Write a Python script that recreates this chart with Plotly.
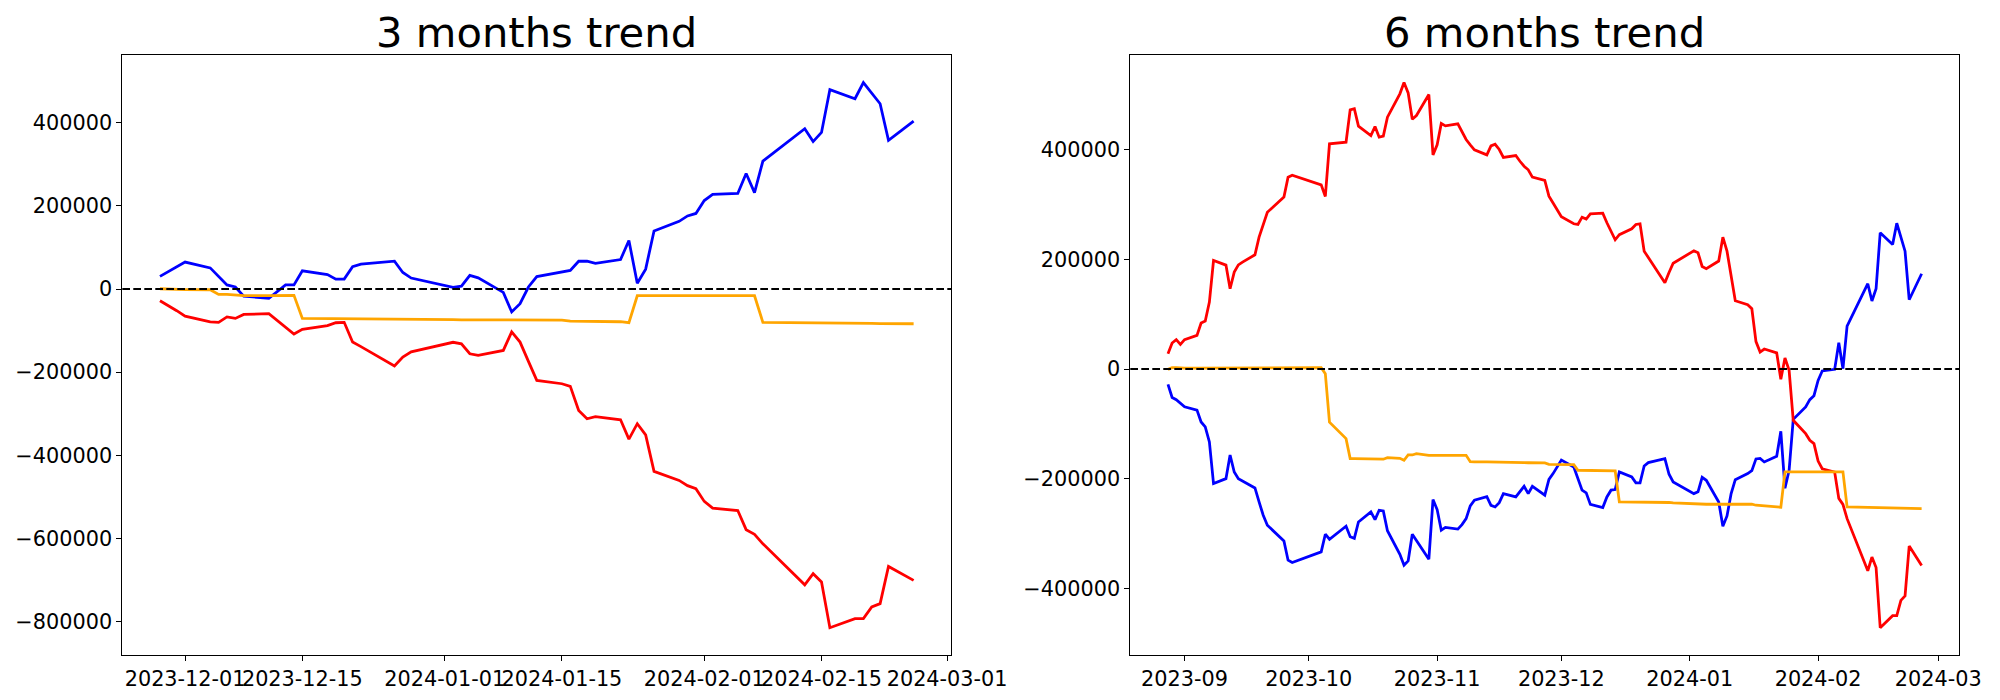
import pandas as pd
import plotly.graph_objects as go

# ---------------- data ----------------
KRX_HOLIDAYS = ["2023-09-28", "2023-09-29", "2023-10-02", "2023-10-03", "2023-10-09",
                "2023-12-25", "2023-12-29", "2024-01-01", "2024-02-09", "2024-02-12"]

DATES_3M = pd.bdate_range("2023-11-28", "2024-02-26", freq="C", holidays=KRX_HOLIDAYS)
DATES_6M = pd.bdate_range("2023-08-28", "2024-02-26", freq="C", holidays=KRX_HOLIDAYS)

BLUE_3M = [30500, 42500, 53000, 65000,
           51000, 30000, 10000, 5000, -17000,
           -22000, -5000, 10000, 10000, 44000,
           35000, 24000, 24000, 54000, 60000,
           67000, 40000, 26500,
           4000, 7000, 33000, 27000,
           -8000, -55000, -35000, 5000, 30000,
           40000, 45000, 67000, 67000, 62000,
           71000, 117000, 14000, 48000, 140000,
           163000, 176000, 182000, 213000, 228000,
           230000, 278000, 232000, 308000,
           386000, 355000, 377000, 480000,
           458000, 497000, 472000, 446000, 358000,
           404000]

RED_3M = [-28000, -39000, -52000, -65000,
          -79000, -80000, -67000, -70600, -61000,
          -59000, -75000, -91000, -108000, -97000,
          -88000, -81000, -80000, -127500, -138500,
          -185000, -163600, -151000,
          -128000, -131600, -155600, -159600,
          -147600, -103000, -127600, -174000, -219800,
          -227800, -234000, -292000, -312000, -307000,
          -314500, -361000, -324000, -351000, -438800,
          -460500, -473000, -480500, -511000, -527000,
          -533000, -579000, -590000, -613000,
          -711800, -685000, -705000, -815000,
          -793000, -793000, -765000, -757000, -667500,
          -701000]

ORANGE_3M = [800, 0, -800, -1200,
             -1600, -12800, -12800, -14000, -16000,
             -16000, -15500, -15500, -15000, -70600,
             -70800, -71000, -71000, -71000, -71200,
             -71400, -72000, -72500,
             -73500, -74000, -74000, -74000,
             -74000, -74200, -74400, -74500, -74600,
             -74600, -77000, -77300, -77600, -77900,
             -78600, -81000, -16000, -16000, -16000,
             -15800, -15800, -15600, -15600, -15500,
             -15500, -15500, -16000, -80200,
             -80500, -81000, -81000, -81500,
             -81800, -82000, -82500, -83000, -83200,
             -83400]

BLUE_6M = [-28000, -52000, -56000, -62600,
           -69000,
           -75000, -96600, -105700, -133000, -209000,
           -200000, -157000, -187800, -200000, -204000,
           -217000, -242500, -266800, -285000, -292000,
           -313600, -348800, -353000,
           -333600, -301400, -310500,
           -286800, -306000, -309000, -279000,
           -260700, -274700, -257700, -258900, -295000,
           -337900, -358000, -350000, -301400, -313000,
           -347000, -238200, -256400, -294000, -289000,
           -292000, -283800, -272900, -249800, -239400,
           -232700, -248600, -251600, -243700, -227300,
           -233400, -223600, -214000, -227300, -214000,
           -230000, -201500, -190800, -178700, -166000,
           -178700, -201800, -221000, -226000, -247000,
           -252800, -233400, -221000, -220000, -187800,
           -197000, -207800, -207800, -176800, -170800,
           -163500, -192000, -206000,
           -227300, -224000, -197500, -203000,
           -242500, -286800, -268000, -227300, -201800,
           -190800, -185300, -164000, -163000, -169500,
           -159200, -113600, -217600, -184700, -91800,
           -69300, -55900, -48600, -20700, -3600,
           -600, 48000, 600, 78400,
           155600, 124000, 146500, 248500,
           227300, 266000, 240600, 215000, 126400,
           173800]

RED_6M = [28000, 47400, 53500, 45000,
          53500,
          61400, 83900, 87500, 122000, 198000,
          189600, 146500, 176800, 190000, 195000,
          208400, 240600, 265000, 286000, 293000,
          313600, 350000, 353700,
          336000, 314800, 410800,
          413800, 472800, 475000, 443000,
          426000, 442400, 423000, 424800, 459400,
          502000, 522600, 503800, 455800, 462500,
          500700, 390700, 409000, 447900, 443600,
          447300, 432000, 418700, 409000, 399900,
          390700, 407000, 410000, 400500, 385900,
          389500, 379000, 370000, 363400, 350000,
          344000, 315400, 303000, 291000, 278000,
          265000, 263700, 277000, 273500, 283000,
          284400, 266800, 251000, 235800, 245000,
          255800, 263700, 265000, 215000, 203600,
          157400, 176000, 193000,
          215700, 212000, 187000, 183000,
          197000, 240600, 215000, 170800, 124600,
          117300, 110000, 50000, 31000, 36500,
          29500, -18800, 20000, -2400, -93600,
          -117900, -130000, -136000, -168000, -182000,
          -188000, -236000, -247000, -273000,
          -368000, -343000, -362000, -472000,
          -450000, -450000, -422000, -414000, -323000,
          -358500]

ORANGE_6M = [-600, 2400, 2400, 2000,
             1800,
             1800, 1800, 2400, 2400, 2400,
             2400, 2400, 2400, 2400, 2400,
             2000, 2000, 2000, 2400, 2400,
             2400, 2400, 2400,
             2400, -8500, -97000,
             -127000, -163500, -163500, -163500,
             -164000, -164000, -164000, -164500, -161600,
             -162900, -166500, -156800, -156800, -154300,
             -157400, -157400, -157400, -157400, -157400,
             -157400, -157400, -157400, -169000, -169600,
             -169600, -169600, -170000, -170200, -170400,
             -170600, -170800, -170800, -171000, -171200,
             -171400, -173800, -174000, -174400, -174400,
             -174400, -184700, -185000, -185000, -185500,
             -185500, -185800, -186000, -186000, -242500,
             -242500, -242500, -242500, -242500, -242500,
             -242500, -243500, -244400,
             -246000, -246700, -246700, -246700,
             -246700, -246700, -246700, -246700, -246700,
             -246700, -246700, -248500, -249000, -249500,
             -251500, -252200, -187800, -187800, -187800,
             -187200, -186500, -186500, -186500, -186500,
             -187200, -187800, -187800, -251600,
             -252200, -252600, -253000, -253400,
             -253800, -254000, -254200, -254600, -254600,
             -254600]

TITLES = ["3 months trend", "6 months trend"]
XTICKS_3M = ["2023-12-01", "2023-12-15", "2024-01-01", "2024-01-15",
             "2024-02-01", "2024-02-15", "2024-03-01"]
XTICKS_6M = ["2023-09-01", "2023-10-01", "2023-11-01", "2023-12-01",
             "2024-01-01", "2024-02-01", "2024-03-01"]
XTICK_LABELS_6M = ["2023-09", "2023-10", "2023-11", "2023-12",
                   "2024-01", "2024-02", "2024-03"]
YTICKS_3M = [-800000, -600000, -400000, -200000, 0, 200000, 400000]
YTICKS_6M = [-400000, -200000, 0, 200000, 400000]

assert len(DATES_3M) == len(BLUE_3M) == len(RED_3M) == len(ORANGE_3M)
assert len(DATES_6M) == len(BLUE_6M) == len(RED_6M) == len(ORANGE_6M)

# ---------------- figure ----------------
W, H = 2000, 700
FONT = "DejaVu Sans"
LW = 2.78


def ylab(v):
    return ("\u2212" + str(-v)) if v < 0 else str(v)


def auto_range(*series):
    lo = min(min(s) for s in series)
    hi = max(max(s) for s in series)
    pad = 0.05 * (hi - lo)
    return [lo - pad, hi + pad]


def date_range_pad(dates):
    span = dates[-1] - dates[0]
    return [dates[0] - 0.05 * span, dates[-1] + 0.05 * span]


fig = go.Figure()
for xa, ya, dates, series in [("x", "y", DATES_3M, (BLUE_3M, RED_3M, ORANGE_3M)),
                              ("x2", "y2", DATES_6M, (BLUE_6M, RED_6M, ORANGE_6M))]:
    for vals, col in zip(series, ["blue", "red", "orange"]):
        fig.add_trace(go.Scatter(x=dates, y=vals, mode="lines", xaxis=xa, yaxis=ya,
                                 line=dict(color=col, width=LW), showlegend=False,
                                 hoverinfo="skip"))

xdom1 = [122.3 / W, 951.3 / W]
xdom2 = [1130.3 / W, 1959.3 / W]
ydom = [1 - 655.0 / H, 1 - 55.3 / H]

axis_style = dict(showline=True, linecolor="black", linewidth=1.1, mirror=True,
                  ticks="outside", ticklen=4.9, tickwidth=1.1, tickcolor="black",
                  showgrid=False, zeroline=False, automargin=False, tickangle=0,
                  tickfont=dict(family=FONT, size=20.8, color="black"))

r1 = date_range_pad(DATES_3M)
r2 = date_range_pad(DATES_6M)

fig.update_layout(
    template="none",
    width=W, height=H,
    margin=dict(l=0, r=0, t=0, b=0, pad=0),
    paper_bgcolor="white", plot_bgcolor="white",
    xaxis=dict(domain=xdom1, anchor="y", type="date", range=r1,
               tickvals=XTICKS_3M, ticktext=XTICKS_3M, **axis_style),
    yaxis=dict(domain=ydom, anchor="x", range=auto_range(BLUE_3M, RED_3M, ORANGE_3M),
               tickvals=YTICKS_3M, ticktext=[ylab(v) for v in YTICKS_3M], **axis_style),
    xaxis2=dict(domain=xdom2, anchor="y2", type="date", range=r2,
                tickvals=XTICKS_6M, ticktext=XTICK_LABELS_6M, **axis_style),
    yaxis2=dict(domain=ydom, anchor="x2", range=auto_range(BLUE_6M, RED_6M, ORANGE_6M),
                tickvals=YTICKS_6M, ticktext=[ylab(v) for v in YTICKS_6M], **axis_style),
)

for xref, yref in [("x domain", "y"), ("x2 domain", "y2")]:
    fig.add_shape(type="line", xref=xref, yref=yref, x0=0, x1=1, y0=0, y1=0,
                  line=dict(color="black", width=2.08, dash="7.7px,3.3px"), layer="above")

for dom, title in zip([xdom1, xdom2], TITLES):
    fig.add_annotation(text=title, xref="paper", yref="paper",
                       x=(dom[0] + dom[1]) / 2, y=1 - 32.4 / H,
                       xanchor="center", yanchor="middle", showarrow=False,
                       font=dict(family=FONT, size=41.7, color="black"))

fig.write_html("out.html", config={"displayModeBar": False},
               post_script="document.body.style.margin='0';")
